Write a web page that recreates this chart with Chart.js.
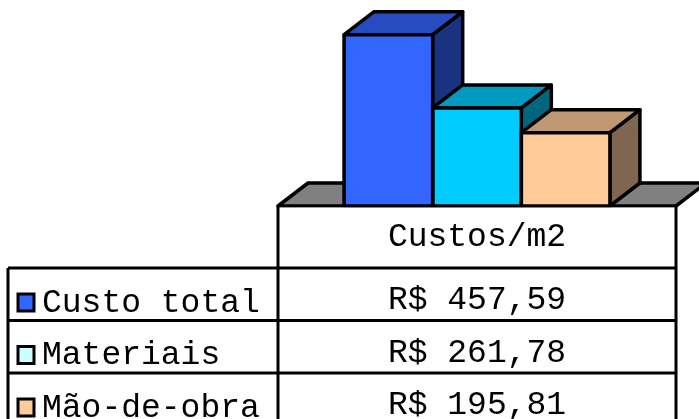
<!DOCTYPE html>
<html>
<head>
<meta charset="utf-8">
<script src="https://cdn.jsdelivr.net/npm/chart.js@4"></script>
<style>
  body { margin: 0; background: #fff; }
  #wrap { width: 699px; height: 419px; }
</style>
</head>
<body>
<div id="wrap"><canvas id="chart" width="699" height="419"></canvas></div>
<script>
// data
var seriesName = 'Custos/m2';
var categories = ['Custo total', 'Materiais', 'Mão-de-obra'];
var values = [457.59, 261.78, 195.81];
var barColors = ['#3366FF', '#00CCFF', '#FFCC99'];
var topColors = ['#264CBF', '#0099BF', '#BF9973'];
var sideColors = ['#1A3380', '#006680', '#806650'];
var keyColors = ['#3366FF', '#CCFFFF', '#FFCC99'];

var DX = 30, DY = 23;
var FONT = '33px "Liberation Mono", "Courier New", monospace';

function money(v) {
    return 'R$ ' + v.toFixed(2).replace('.', ',');
}

function poly(ctx, pts, fill) {
    ctx.beginPath();
    ctx.moveTo(pts[0][0], pts[0][1]);
    for (var i = 1; i < pts.length; i++) ctx.lineTo(pts[i][0], pts[i][1]);
    ctx.closePath();
    if (fill) { ctx.fillStyle = fill; ctx.fill(); }
    ctx.stroke();
}

// floor + 3d top/side faces, front outlines, data table
var box3d = {
    id: 'box3d',
    beforeDatasetsDraw: function(chart) {
        var ctx = chart.ctx, a = chart.chartArea;
        ctx.save();
        ctx.lineWidth = 3.5;
        ctx.strokeStyle = '#000';
        ctx.lineJoin = 'round';
        poly(ctx, [[a.left, a.bottom], [a.left + DX, a.bottom - DY],
                   [a.right + DX, a.bottom - DY], [a.right, a.bottom]], '#808080');
        chart.data.datasets.forEach(function(ds, i) {
            var bar = chart.getDatasetMeta(i).data[0];
            var l = bar.x - bar.width / 2, r = bar.x + bar.width / 2;
            var t = bar.y, b = bar.base;
            poly(ctx, [[r, b], [r + DX, b - DY], [r + DX, t - DY], [r, t]], sideColors[i]);
            poly(ctx, [[l, t], [l + DX, t - DY], [r + DX, t - DY], [r, t]], topColors[i]);
        });
        ctx.restore();
    },
    afterDatasetsDraw: function(chart) {
        var ctx = chart.ctx;
        ctx.save();
        ctx.lineWidth = 3.5;
        ctx.strokeStyle = '#000';
        ctx.lineJoin = 'round';
        chart.data.datasets.forEach(function(ds, i) {
            var bar = chart.getDatasetMeta(i).data[0];
            var l = bar.x - bar.width / 2, r = bar.x + bar.width / 2;
            ctx.strokeRect(l, bar.y, r - l, bar.base - bar.y);
        });
        ctx.restore();
    },
    afterDraw: function(chart) {
        var ctx = chart.ctx, a = chart.chartArea;
        var tableLeft = 8, rowH = 52.5;
        var headBottom = a.bottom + 62;
        var mid = (a.left + a.right) / 2;
        ctx.save();
        ctx.fillStyle = '#fff';
        ctx.fillRect(a.left, a.bottom + 1.5, a.right - a.left, 60);
        ctx.fillRect(tableLeft, headBottom, a.right - tableLeft, 419 - headBottom);
        ctx.strokeStyle = '#000';
        ctx.lineWidth = 3;
        ctx.beginPath();
        ctx.moveTo(a.left, a.bottom); ctx.lineTo(a.left, 440);
        ctx.moveTo(a.right, a.bottom); ctx.lineTo(a.right, 440);
        ctx.moveTo(tableLeft, headBottom); ctx.lineTo(tableLeft, 440);
        for (var i = 0; i < categories.length; i++) {
            var y = headBottom + i * rowH;
            ctx.moveTo(tableLeft, y); ctx.lineTo(a.right, y);
        }
        ctx.stroke();

        ctx.font = FONT;
        ctx.fillStyle = '#000';
        ctx.textBaseline = 'alphabetic';
        ctx.textAlign = 'center';
        ctx.fillText(seriesName, mid, a.bottom + 40);
        categories.forEach(function(c, i) {
            var top = headBottom + i * rowH;
            ctx.textAlign = 'center';
            ctx.fillStyle = '#000';
            ctx.fillText(money(values[i]), mid, top + 41);
            ctx.textAlign = 'left';
            ctx.fillText(c, 42, top + 43.5);
            ctx.fillStyle = keyColors[i];
            ctx.lineWidth = 3;
            ctx.fillRect(18, top + 26, 16, 17);
            ctx.strokeRect(18, top + 26, 16, 17);
        });
        ctx.restore();
    }
};

var config = {
    type: 'bar',
    data: {
        labels: [seriesName],
        datasets: categories.map(function(c, i) {
            return {
                label: c,
                data: [values[i]],
                backgroundColor: barColors[i],
                borderWidth: 0
            };
        })
    },
    options: {
        responsive: false,
        animation: false,
        categoryPercentage: 0.668,
        barPercentage: 1,
        layout: { padding: { left: 278, right: 23, top: 18.75, bottom: 213 } },
        scales: {
            x: { display: false },
            y: { display: false, min: 0, max: 500 }
        },
        plugins: {
            legend: { display: false },
            tooltip: { enabled: false }
        }
    },
    plugins: [box3d]
};

new Chart(document.getElementById('chart').getContext('2d'), config);
</script>
</body>
</html>
